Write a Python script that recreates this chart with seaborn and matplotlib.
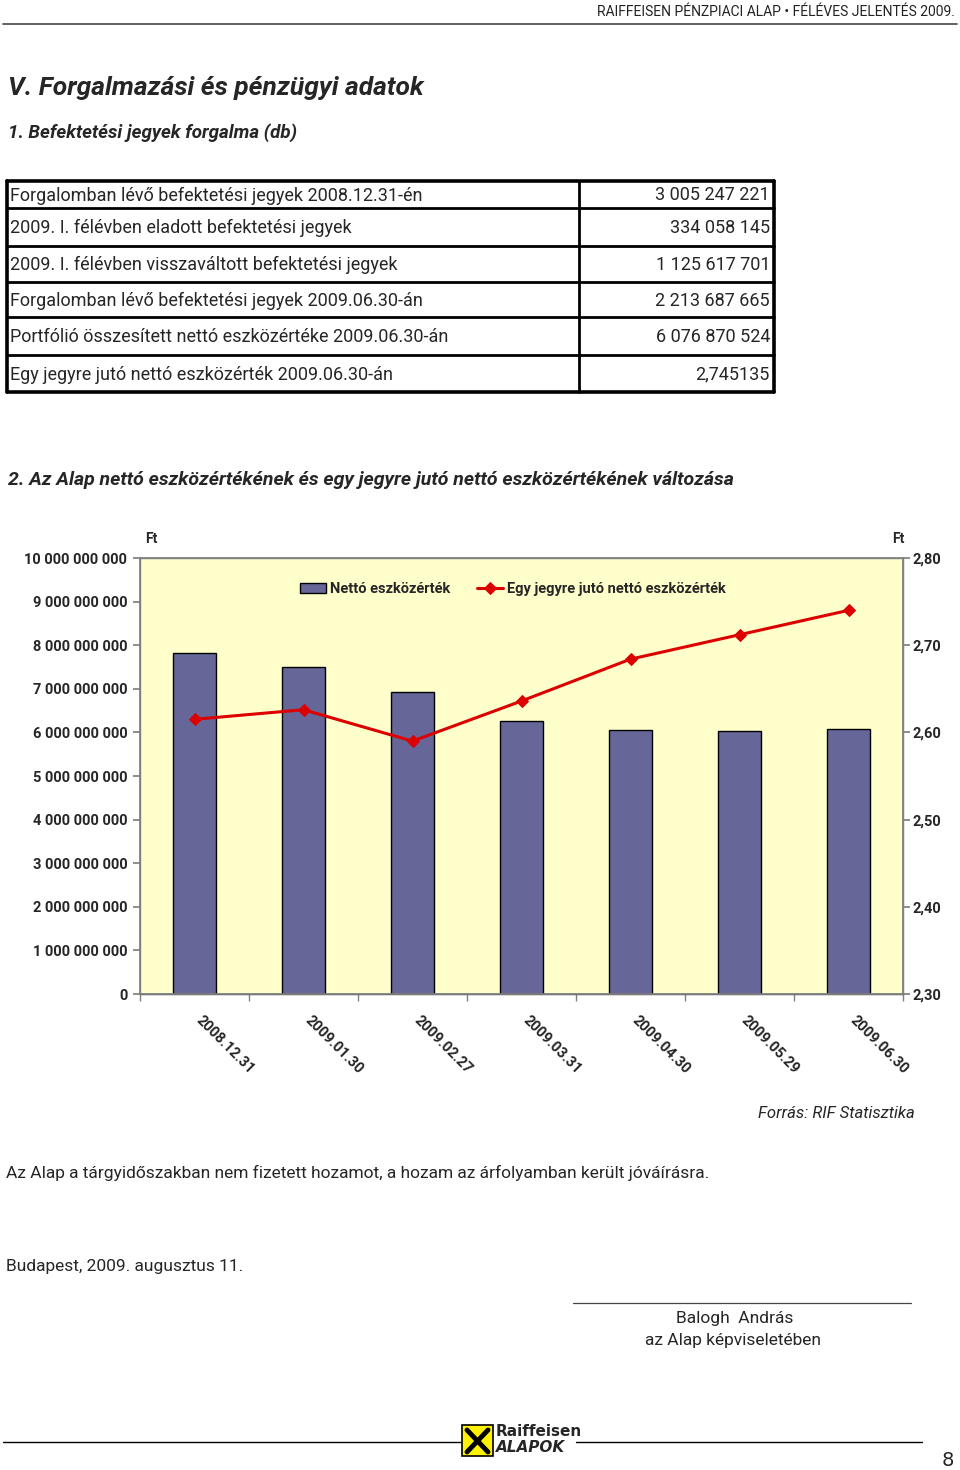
import numpy as np
import matplotlib
matplotlib.use("Agg")
import matplotlib.pyplot as plt
from matplotlib import font_manager
from matplotlib.patches import Rectangle
from matplotlib.lines import Line2D
from matplotlib.transforms import ScaledTranslation
import seaborn as sns

# ---------------- data ----------------
table_labels = [
    "Forgalomban lévő befektetési jegyek 2008.12.31-én",
    "2009. I. félévben eladott befektetési jegyek",
    "2009. I. félévben visszaváltott befektetési jegyek",
    "Forgalomban lévő befektetési jegyek 2009.06.30-án",
    "Portfólió összesített nettó eszközértéke 2009.06.30-án",
    "Egy jegyre jutó nettó eszközérték 2009.06.30-án",
]
table_values = ["3 005 247 221", "334 058 145", "1 125 617 701",
                "2 213 687 665", "6 076 870 524", "2,745135"]

dates = ["2008.12.31", "2009.01.30", "2009.02.27", "2009.03.31",
         "2009.04.30", "2009.05.29", "2009.06.30"]
net_asset_value = [7.81e9, 7.51e9, 6.92e9, 6.26e9, 6.05e9, 6.03e9, 6.077e9]
per_unit_value = [2.615, 2.626, 2.590, 2.636, 2.684, 2.712, 2.740]

left_ticks = [0, 1e9, 2e9, 3e9, 4e9, 5e9, 6e9, 7e9, 8e9, 9e9, 10e9]
right_ticks = [2.30, 2.40, 2.50, 2.60, 2.70, 2.80]

# ---------------- fonts ----------------
sns.set_theme(style="white")
avail = {f.name for f in font_manager.fontManager.ttflist}
def pick(*names):
    for n in names:
        if n in avail:
            return n
    return "DejaVu Sans"
BODY = pick("Liberation Sans Narrow", "Roboto", "Open Sans")
CHART = pick("Liberation Sans Narrow", "Roboto", "DejaVu Sans")
plt.rcParams["font.family"] = [BODY, "DejaVu Sans"]

W, H = 960, 1470
fig = plt.figure(figsize=(W / 100, H / 100), dpi=100)
fig.patch.set_facecolor("white")

def fx(x): return x / W
def fy(y): return 1 - y / H

def txt(x, y, s, **kw):
    kw.setdefault("va", "center")
    fig.text(fx(x), fy(y), s, **kw)

def hline(x0, x1, y, lw=1.0, color="black"):
    fig.add_artist(Line2D([fx(x0), fx(x1)], [fy(y), fy(y)], lw=lw, color=color))

def vline(x, y0, y1, lw=1.0, color="black"):
    fig.add_artist(Line2D([fx(x), fx(x)], [fy(y0), fy(y1)], lw=lw, color=color))

# header
txt(955, 12, "RAIFFEISEN PÉNZPIACI ALAP • FÉLÉVES JELENTÉS 2009.", ha="right", fontsize=10, color="#222222")
hline(3, 957, 24, lw=1.3, color="#555555")

# titles
txt(8, 88, "V. Forgalmazási és pénzügyi adatok", fontsize=19, fontweight="bold", style="italic")
txt(8, 133, "1. Befektetési jegyek forgalma (db)", fontsize=13.5, fontweight="bold", style="italic")

# table
row_lines = [181, 208, 246, 282, 317, 355, 392]
tl, tm, tr = 7, 579, 774
for i, y in enumerate(row_lines):
    lw = 2.6 if i in (0, len(row_lines) - 1) else 2.0
    hline(tl, tr, y, lw=lw)
vline(tl, 181, 392, lw=2.6)
vline(tr, 181, 392, lw=2.6)
vline(tm, 181, 392, lw=2.0)
for i, (lab, val) in enumerate(zip(table_labels, table_values)):
    yc = (row_lines[i] + row_lines[i + 1]) / 2 + 1
    txt(10, yc, lab, fontsize=13)
    txt(770, yc, val, fontsize=13, ha="right")

txt(8, 480, "2. Az Alap nettó eszközértékének és egy jegyre jutó nettó eszközértékének változása",
    fontsize=14, fontweight="bold", style="italic")

# ---------------- chart ----------------
pl, pr, pt, pb = 140, 903, 558, 994
ax = fig.add_axes([fx(pl), fy(pb), (pr - pl) / W, (pb - pt) / H])
ax.set_facecolor("#FFFFCC")
sns.barplot(x=dates, y=net_asset_value, ax=ax, color="#666699", edgecolor="black",
            linewidth=1.0, width=0.4, saturation=1, label="Nettó eszközérték")
ax.set_xlim(-0.5, len(dates) - 0.5)
ax.set_ylim(0, 10e9)
ax.set_yticks(left_ticks)
ax.set_yticklabels([f"{int(v):,}".replace(",", " ") for v in left_ticks],
                   fontsize=10.5, fontweight="bold", fontfamily=CHART)
ax.set_xticks(range(len(dates)))
ax.set_xticklabels(dates, rotation=-45, ha="left", va="top", rotation_mode="anchor",
                   fontsize=10.5, fontweight="bold", fontfamily=CHART)
ax.tick_params(axis="x", length=0, pad=14)
shift = ScaledTranslation(9 / 100, 0, fig.dpi_scale_trans)
for lbl in ax.get_xticklabels():
    lbl.set_transform(lbl.get_transform() + shift)
ax.set_xticks(np.arange(-0.5, len(dates), 1.0), minor=True)
ax.tick_params(axis="x", which="minor", length=5, direction="out", color="#808080", bottom=True)
ax.tick_params(axis="y", length=5, direction="out", color="#808080", left=True, pad=4)
for sp in ax.spines.values():
    sp.set_color("#808080")
    sp.set_linewidth(1.0)
ax.spines["bottom"].set_color("#404040")
ax.set_xlabel("")
ax.set_ylabel("")
ax.grid(False)

ax2 = ax.twinx()
sns.lineplot(x=np.arange(len(dates)), y=per_unit_value, ax=ax2, color="#DD0000", lw=2.2,
             marker="D", markersize=6, markeredgecolor="#DD0000",
             label="Egy jegyre jutó nettó eszközérték")
ax2.set_ylim(2.30, 2.80)
ax2.set_yticks(right_ticks)
ax2.set_yticklabels([f"{v:.2f}".replace(".", ",") for v in right_ticks],
                    fontsize=10.5, fontweight="bold", fontfamily=CHART)
ax2.tick_params(axis="y", length=5, direction="out", color="#808080", right=True, pad=2)
for sp in ax2.spines.values():
    sp.set_color("#808080")
ax2.set_xlim(-0.5, len(dates) - 0.5)
ax2.grid(False)
if ax2.get_legend():
    ax2.get_legend().remove()
if ax.get_legend():
    ax.get_legend().remove()

h1, l1 = ax.get_legend_handles_labels()
h2, l2 = ax2.get_legend_handles_labels()
leg = ax2.legend(h1 + h2, l1 + l2, loc="center", bbox_to_anchor=((513 - pl) / (pr - pl), (pb - 589) / (pb - pt)),
                 ncol=2, frameon=False, prop={"family": CHART, "weight": "bold", "size": 10.5},
                 handlelength=1.8, columnspacing=1.8, handletextpad=0.3)

txt(151, 539, "Ft", fontsize=10, fontweight="bold", ha="center", fontfamily=CHART)
txt(898, 539, "Ft", fontsize=10, fontweight="bold", ha="center", fontfamily=CHART)

# ---------------- footer text ----------------
txt(915, 1113, "Forrás: RIF Statisztika", fontsize=12, style="italic", ha="right")
txt(6, 1173, "Az Alap a tárgyidőszakban nem fizetett hozamot, a hozam az árfolyamban került jóváírásra.", fontsize=12.5)
txt(6, 1266, "Budapest, 2009. augusztus 11.", fontsize=12.5)
hline(573, 911, 1303, lw=0.9, color="#444444")
txt(735, 1319, "Balogh  András", fontsize=12.5, ha="center")
txt(733, 1340, "az Alap képviseletében", fontsize=12.5, ha="center")

# footer logo and rule
hline(3, 461, 1442, lw=1.0)
hline(576, 922, 1442, lw=1.0)
fig.add_artist(Rectangle((fx(462), fy(1456)), 31 / W, 31 / H, facecolor="#FFF200",
                         edgecolor="black", lw=1.2))
fig.add_artist(Line2D([fx(467), fx(488)], [fy(1430), fy(1452)], lw=3.5, color="black"))
fig.add_artist(Line2D([fx(467), fx(488)], [fy(1452), fy(1430)], lw=3.5, color="black"))
txt(496, 1431, "Raiffeisen", fontsize=11, fontweight="bold", family="DejaVu Sans")
txt(496, 1448, "ALAPOK", fontsize=11, fontweight="bold", style="italic", family="DejaVu Sans")
txt(948, 1460, "8", fontsize=14, ha="center", family="DejaVu Sans")

fig.savefig("out.png", dpi=100, facecolor="white")
